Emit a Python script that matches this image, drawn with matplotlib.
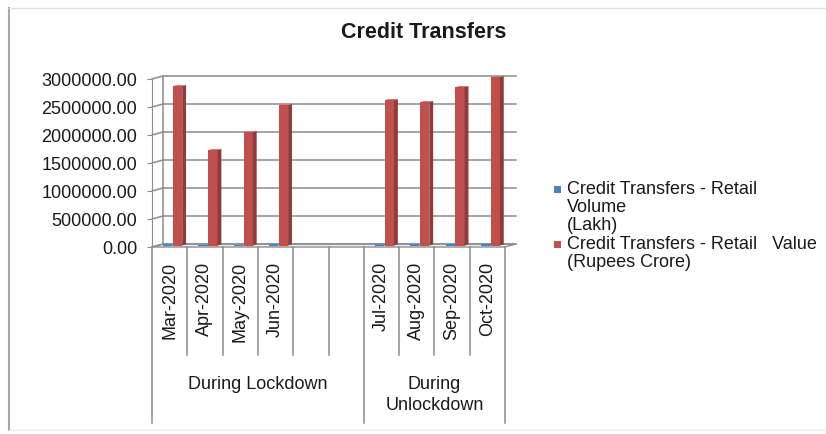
import matplotlib
matplotlib.use("Agg")
import matplotlib.pyplot as plt
import matplotlib.transforms as mtransforms
from matplotlib.patches import Polygon, Rectangle
from matplotlib.lines import Line2D
import numpy as np

plt.rcParams['font.family'] = ['Liberation Sans', 'DejaVu Sans']

# monthly data, two empty slots separate the two periods
categories = ["Mar-2020", "Apr-2020", "May-2020", "Jun-2020", "", "",
              "Jul-2020", "Aug-2020", "Sep-2020", "Oct-2020"]
volume_lakh = [19000, 12600, 16000, 18000, np.nan, np.nan, 20000, 21500, 23000, 25500]
value_crore = [2848000, 1705000, 2027000, 2509000, np.nan, np.nan,
               2598000, 2562000, 2830000, 3009000]
series_names = ["Credit Transfers - Retail\nVolume\n(Lakh)",
                "Credit Transfers - Retail   Value\n(Rupees Crore)"]
groups = ["During Lockdown", "During\nUnlockdown"]
yticks = np.arange(0, 3000001, 500000)

W, H = 826, 434
fig = plt.figure(figsize=(W / 100, H / 100), dpi=100)
ax = fig.add_axes([152 / W, 1 - 247 / H, 353 / W, 168 / H])
n = len(categories)
ax.set_xlim(0, n)
ax.set_ylim(0, 3000000)

# 3d look: depth of the plot box in data units
DX = 11 / 35.3
DY = 6 / 56 * 500000
grid_c = '#8c8c8c'

for s in ['top', 'right', 'bottom']:
    ax.spines[s].set_visible(False)
ax.spines['left'].set_color(grid_c)
ax.set_xticks([])
ax.set_yticks(yticks)
ax.set_yticklabels(['%.2f' % v for v in yticks])
ax.tick_params(axis='y', length=3.6, color=grid_c, pad=7, labelsize=13,
               labelcolor='#1a1a1a')

# floor
ax.add_patch(Polygon([(0, 0), (n, 0), (n + DX, DY), (DX, DY)], closed=True,
                     facecolor='#eef1f6', edgecolor=grid_c, lw=1, clip_on=False, zorder=1))
# back wall gridlines and side wall diagonals
for v in yticks:
    ax.plot([DX, n + DX], [v + DY, v + DY], color=grid_c, lw=1.1, clip_on=False, zorder=1)
    ax.plot([0, DX], [v, v + DY], color=grid_c, lw=1.1, clip_on=False, zorder=1)
ax.plot([DX, DX], [DY, yticks[-1] + DY], color=grid_c, lw=1.1, clip_on=False, zorder=1)


def draw_3d_bars(offset, values, front, side, top, width=0.26, fd=0.5, depth=0.35):
    x = np.arange(n) + offset + fd * DX
    base = fd * DY
    ddx, ddy = depth * DX, depth * DY
    vals = np.asarray(values, dtype=float)
    ok = ~np.isnan(vals)
    bars = ax.bar(x[ok], vals[ok], width=width, bottom=base, align='edge',
                  color=front, lw=0, clip_on=False, zorder=3)
    for r in bars:
        x0, y0, w, h = r.get_x(), r.get_y(), r.get_width(), r.get_height()
        ax.add_patch(Polygon([(x0 + w, y0), (x0 + w + ddx, y0 + ddy),
                              (x0 + w + ddx, y0 + h + ddy), (x0 + w, y0 + h)],
                             closed=True, facecolor=side, lw=0, clip_on=False, zorder=3))
        ax.add_patch(Polygon([(x0, y0 + h), (x0 + ddx, y0 + h + ddy),
                              (x0 + w + ddx, y0 + h + ddy), (x0 + w, y0 + h)],
                             closed=True, facecolor=top, lw=0, clip_on=False, zorder=3))
    return bars


draw_3d_bars(0.16, volume_lakh, '#4f81bd', '#385d8a', '#6f97cc')
draw_3d_bars(0.44, value_crore, '#c0504d', '#8e3b39', '#d77b78')

# category axis: separators, month labels and group labels
tr = mtransforms.blended_transform_factory(ax.transData, ax.transAxes)
for i in range(n + 1):
    bottom = -1.045 if i in (0, 6, 10) else -0.643
    ax.add_line(Line2D([i, i], [0, bottom], transform=tr, color=grid_c, lw=1.1,
                       clip_on=False))
for i, c in enumerate(categories):
    if c:
        ax.text(i + 0.5, -0.09, c, transform=tr, rotation=90, ha='center', va='top',
                fontsize=13, color='#1a1a1a')
ax.text(3, -0.82, groups[0], transform=tr, ha='center', va='center',
        fontsize=13, color='#1a1a1a')
ax.text(8, -0.88, groups[1], transform=tr, ha='center', va='center',
        fontsize=13, color='#1a1a1a', linespacing=1.26)

fig.text(424 / W, 1 - 33 / H, "Credit Transfers", ha='center', va='center',
         fontsize=15.5, fontweight='bold', color='#1a1a1a')

# legend
leg_colors = ['#4f81bd', '#c0504d']
leg_y = [189, 244]
for name, col, y in zip(series_names, leg_colors, leg_y):
    fig.patches.append(Rectangle(((557 - 3.5) / W, 1 - (y + 3.5) / H), 7 / W, 7 / H,
                                 transform=fig.transFigure, facecolor=col, lw=0))
    fig.text(567 / W, 1 - (y - 8) / H, name, ha='left', va='top', fontsize=13,
             color='#1a1a1a', linespacing=1.07)

# chart area border
fig.add_artist(Line2D([9 / W, 9 / W], [1 - 8 / H, 1 - 430 / H], color='#a8a8a8', lw=1.5))
fig.add_artist(Line2D([9 / W, 1], [1 - 8 / H, 1 - 8 / H], color='#e2e2e2', lw=1))
fig.add_artist(Line2D([9 / W, 1], [1 - 430 / H, 1 - 430 / H], color='#ececec', lw=1))

fig.savefig('out.png', dpi=100)
